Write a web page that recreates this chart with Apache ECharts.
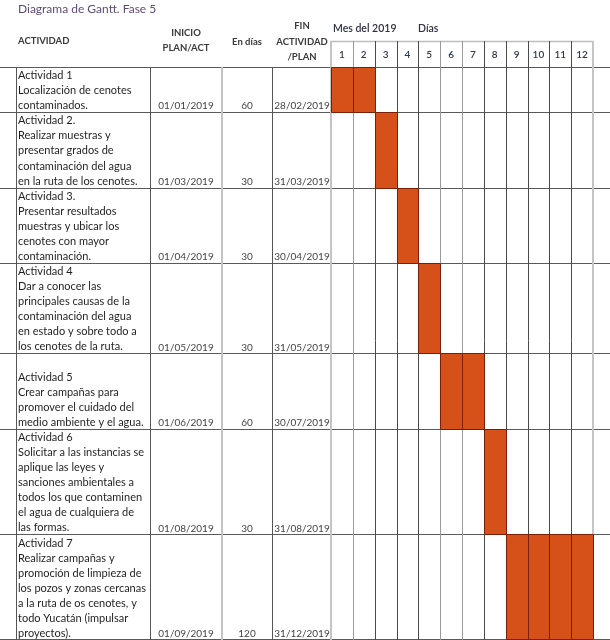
<!DOCTYPE html>
<html><head><meta charset="utf-8">
<script src="https://cdn.jsdelivr.net/npm/echarts@6/dist/echarts.min.js"></script>
<style>html,body{margin:0;padding:0;background:#fff}#c{width:610px;height:640px}</style>
</head><body><div id="c"></div>
<script>
// ---------- DATA ----------
const title = 'Diagrama de Gantt. Fase 5';
const monthLabels = ['1','2','3','4','5','6','7','8','9','10','11','12'];
const activityLines = [
  ['Actividad 1', 'Localización de cenotes', 'contaminados.'],
  ['Actividad 2.', 'Realizar muestras y', 'presentar grados de', 'contaminación del agua', 'en la ruta de los cenotes.'],
  ['Actividad 3.', 'Presentar resultados', 'muestras y ubicar los', 'cenotes con mayor', 'contaminación.'],
  ['Actividad 4', 'Dar a conocer las', 'principales causas de la', 'contaminación del agua', 'en estado y sobre todo a', 'los cenotes de la ruta.'],
  ['', 'Actividad 5', 'Crear campañas para', 'promover el cuidado del', 'medio ambiente y el agua.'],
  ['Actividad 6', 'Solicitar a las instancias se', 'aplique las leyes y', 'sanciones ambientales a', 'todos los que contaminen', 'el agua de cualquiera de', 'las formas.'],
  ['Actividad 7', 'Realizar campañas y', 'promoción de limpieza de', 'los pozos y zonas cercanas', 'a la ruta de os cenotes, y', 'todo Yucatán (impulsar', 'proyectos).']
];
const inicio = ['01/01/2019','01/03/2019','01/04/2019','01/05/2019','01/06/2019','01/08/2019','01/09/2019'];
const dias = ['60','30','30','30','60','30','120'];
const fin = ['28/02/2019','31/03/2019','30/04/2019','31/05/2019','30/07/2019','31/08/2019','31/12/2019'];
const startMonth = [1,3,4,5,6,8,9];
const endMonth = [2,3,4,5,7,8,12];

// ---------- DERIVED ----------
const rowStart = [];
let acc = 0;
activityLines.forEach(l => { rowStart.push(acc); acc += l.length; });
const TOTAL = acc;
const rowEnd = rowStart.map((s, i) => s + activityLines[i].length);
const boundaries = [0].concat(rowEnd);
const HEADER = -1.72;
const cells = [];
startMonth.forEach((s, i) => { for (let m = s; m <= endMonth[i]; m++) cells.push([m, i]); });

// ---------- LAYOUT / STYLE ----------
const FONT = 'Lato, "Open Sans", sans-serif';
const X_LEFT = 16, X_INI = 150, X_DIAS = 222, X_FIN = 272, X_MON = 331, X_END = 610;
const leftCols = [
  {x: X_LEFT, c: '#555', w: 1},
  {x: X_INI, c: '#555', w: 1},
  {x: X_DIAS, c: '#c4c4c4', w: 2},
  {x: X_FIN, c: '#555', w: 1},
  {x: X_MON, c: '#c4c4c4', w: 2}
];
const monthLineColor = i => (i === 0 || i === 12) ? '#c4c4c4' : (i === 5 || i === 6 || i === 1 ? '#9a9a9a' : '#4a4a4a');
const px = v => Math.round(v) + 0.5;
const HB = 'bold 9.5px ' + FONT;

const chart = echarts.init(document.getElementById('c'), null, {renderer: 'canvas'});
chart.setOption({
  animation: false,
  backgroundColor: '#fff',
  grid: {left: X_MON, right: 17, top: 41, bottom: 0},
  xAxis: {type: 'value', min: 0, max: 12, interval: 1, show: false},
  yAxis: {type: 'value', min: HEADER, max: TOTAL, inverse: true, show: false},
  graphic: [
    {type: 'text', left: 18, top: 3, style: {text: title, font: '12px ' + FONT, fill: '#5e4b73'}},
    {type: 'text', left: 18, top: 36, style: {text: 'ACTIVIDAD', font: HB, fill: '#3a3a3a'}},
    {type: 'text', x: 186, y: 33, style: {text: 'INICIO', font: HB, fill: '#3a3a3a', align: 'center', verticalAlign: 'middle'}},
    {type: 'text', x: 186, y: 48, style: {text: 'PLAN/ACT', font: HB, fill: '#3a3a3a', align: 'center', verticalAlign: 'middle'}},
    {type: 'text', x: 247, y: 42, style: {text: 'En días', font: HB, fill: '#3a3a3a', align: 'center', verticalAlign: 'middle'}},
    {type: 'text', x: 302, y: 26, style: {text: 'FIN', font: HB, fill: '#3a3a3a', align: 'center', verticalAlign: 'middle'}},
    {type: 'text', x: 302, y: 42, style: {text: 'ACTIVIDAD', font: HB, fill: '#3a3a3a', align: 'center', verticalAlign: 'middle'}},
    {type: 'text', x: 302, y: 57, style: {text: '/PLAN', font: HB, fill: '#3a3a3a', align: 'center', verticalAlign: 'middle'}},
    {type: 'text', x: 333, y: 29, style: {text: 'Mes del 2019', font: '600 10.5px ' + FONT, fill: '#2f2f3f', verticalAlign: 'middle'}},
    {type: 'text', x: 418, y: 29, style: {text: 'Días', font: '600 10.5px ' + FONT, fill: '#2f2f3f', verticalAlign: 'middle'}}
  ],
  series: [
    { // horizontal row lines
      type: 'custom', z: 2, clip: false, silent: true,
      data: boundaries.map(v => [0, v]),
      renderItem: (p, api) => {
        const y = Math.min(px(api.coord([0, api.value(1)])[1]), 639.5);
        return {type: 'line', shape: {x1: 0, y1: y, x2: X_END, y2: y}, style: {stroke: '#5a5a5a', lineWidth: 1}};
      }
    },
    { // header top line of month area
      type: 'custom', z: 2, clip: false, silent: true,
      data: [[0, HEADER]],
      renderItem: (p, api) => {
        const a = api.coord([0, api.value(1)]), b = api.coord([12, api.value(1)]);
        return {type: 'line', shape: {x1: a[0], y1: px(a[1]), x2: b[0], y2: px(a[1])}, style: {stroke: '#bdbdbd', lineWidth: 1.5}};
      }
    },
    { // month vertical lines
      type: 'custom', z: 3, clip: false, silent: true,
      data: monthLabels.map((m, i) => [i, 0]).concat([[12, 0]]),
      renderItem: (p, api) => {
        const i = api.value(0);
        const a = api.coord([i, HEADER]), b = api.coord([i, TOTAL]);
        const thick = (i === 0 || i === 12);
        const x = thick ? Math.round(a[0]) : px(a[0]);
        return {type: 'line', shape: {x1: x, y1: a[1], x2: x, y2: b[1]}, style: {stroke: monthLineColor(i), lineWidth: thick ? 2 : 1}};
      }
    },
    { // left table vertical lines
      type: 'custom', z: 3, clip: false, silent: true,
      data: leftCols.map((c, i) => [i, 0]),
      renderItem: (p, api) => {
        const c = leftCols[api.value(0)];
        const a = api.coord([0, 0]), b = api.coord([0, TOTAL]);
        const x = c.w === 2 ? c.x : c.x + 0.5;
        return {type: 'line', shape: {x1: x, y1: a[1], x2: x, y2: b[1]}, style: {stroke: c.c, lineWidth: c.w}};
      }
    },
    { // gantt bars (one cell per month)
      type: 'custom', z: 4, clip: false, silent: true,
      data: cells,
      renderItem: (p, api) => {
        const m = api.value(0), r = api.value(1);
        const a = api.coord([m - 1, rowStart[r]]), b = api.coord([m, rowEnd[r]]);
        const x0 = Math.round(a[0]) + 0.5, y0 = Math.round(a[1]) + 0.5;
        const x1 = Math.round(b[0]) + 0.5, y1 = Math.min(Math.round(b[1]) + 0.5, 639.5);
        return {type: 'rect', shape: {x: x0, y: y0, width: x1 - x0, height: y1 - y0},
                style: {fill: '#d6501a', stroke: '#7c1d06', lineWidth: 1}};
      }
    },
    { // month header labels
      type: 'custom', z: 5, clip: false, silent: true,
      data: monthLabels.map((m, i) => [i + 1, 0]),
      renderItem: (p, api) => {
        const m = api.value(0);
        const c = api.coord([m - 0.5, HEADER / 2]);
        return {type: 'text', style: {x: c[0], y: c[1] + 1, text: monthLabels[m - 1], font: '600 10px ' + FONT, fill: '#2b3a4f', align: 'center', verticalAlign: 'middle'}};
      }
    },
    { // activity texts and values
      type: 'custom', z: 5, clip: false, silent: true,
      data: activityLines.map((l, i) => [0, i]),
      renderItem: (p, api) => {
        const r = api.value(1);
        const lines = activityLines[r];
        const children = lines.map((t, k) => {
          const y = api.coord([0, rowStart[r] + k + 0.5])[1] + 1;
          return {type: 'text', style: {x: 18, y: y, text: t, font: '11px ' + FONT, fill: '#1f1f1f', align: 'left', verticalAlign: 'middle'}};
        });
        const yLast = api.coord([0, rowEnd[r] - 0.5])[1] + 1.5;
        const vs = {font: '10px ' + FONT, fill: '#444', align: 'center', verticalAlign: 'middle'};
        children.push({type: 'text', style: Object.assign({x: 186, y: yLast, text: inicio[r]}, vs)});
        children.push({type: 'text', style: Object.assign({x: 247, y: yLast, text: dias[r]}, vs)});
        children.push({type: 'text', style: Object.assign({x: 302, y: yLast, text: fin[r]}, vs)});
        return {type: 'group', children: children};
      }
    }
  ]
});
</script></body></html>
